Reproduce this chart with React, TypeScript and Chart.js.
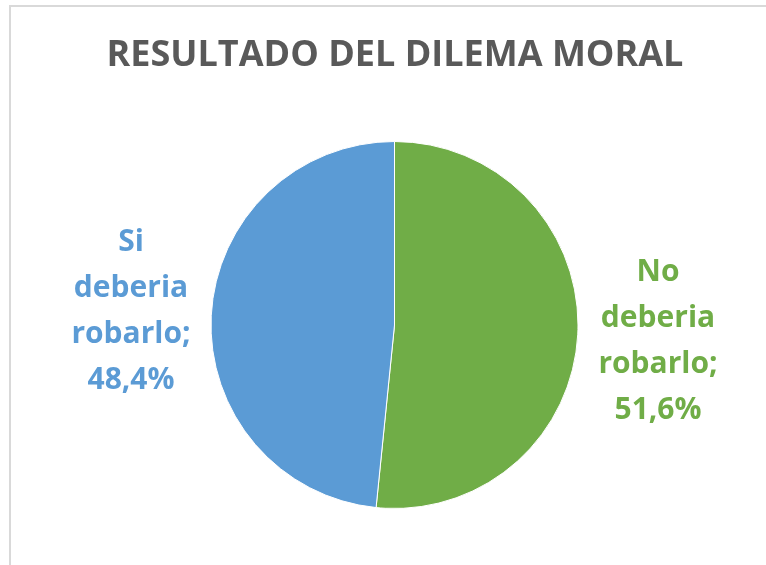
import React, { useEffect, useRef } from "react";
import { Chart, registerables } from "chart.js";

Chart.register(...registerables);

const TITLE = "RESULTADO DEL DILEMA MORAL";
const categories = ["No deberia robarlo", "Si deberia robarlo"];
const values = [51.6, 48.4];
const colors = ["#70AD47", "#5B9BD5"];
const labelLines = [
  ["No", "deberia", "robarlo;", "51,6%"],
  ["Si", "deberia", "robarlo;", "48,4%"],
];

const FONT = "'Open Sans', 'DejaVu Sans', sans-serif";

const overlayPlugin = {
  id: "overlay",
  afterDraw(chart: any) {
    const ctx = chart.ctx as CanvasRenderingContext2D;
    ctx.save();
    // title
    ctx.fillStyle = "#595959";
    ctx.font = `bold 36px ${FONT}`;
    ctx.textAlign = "center";
    ctx.textBaseline = "alphabetic";
    ctx.fillText(TITLE, 395, 66);
    // labels
    const pos = [
      { x: 658, y: 341 },
      { x: 131, y: 311 },
    ];
    ctx.font = `bold 30px ${FONT}`;
    ctx.textBaseline = "middle";
    labelLines.forEach((lines, i) => {
      ctx.fillStyle = colors[i];
      const pitch = 46;
      const start = pos[i].y - (pitch * (lines.length - 1)) / 2;
      lines.forEach((l, j) => ctx.fillText(l, pos[i].x, start + j * pitch));
    });
    ctx.restore();
  },
};

export default function App() {
  const ref = useRef<HTMLCanvasElement>(null);
  useEffect(() => {
    if (!ref.current) return;
    const chart = new Chart(ref.current, {
      type: "pie",
      data: {
        labels: categories,
        datasets: [
          {
            data: values,
            backgroundColor: colors,
            borderColor: "#ffffff",
            borderWidth: 1,
          },
        ],
      },
      options: {
        responsive: false,
        animation: false,
        layout: { padding: { top: 141, bottom: 56, left: 210, right: 187 } },
        plugins: {
          legend: { display: false },
          title: { display: false },
          tooltip: { enabled: false },
        },
      },
      plugins: [overlayPlugin],
    });
    return () => chart.destroy();
  }, []);
  return (
    <div style={{ position: "fixed", left: 0, top: 0, width: 766, height: 565, background: "#fff", overflow: "hidden" }}>
      <div
        style={{
          position: "absolute",
          left: 9,
          top: 5,
          width: 900,
          height: 900,
          borderLeft: "2px solid #d9d9d9",
          borderTop: "2px solid #d9d9d9",
        }}
      />
      <canvas ref={ref} width={766} height={565} style={{ position: "absolute", left: 0, top: 0 }} />
    </div>
  );
}
